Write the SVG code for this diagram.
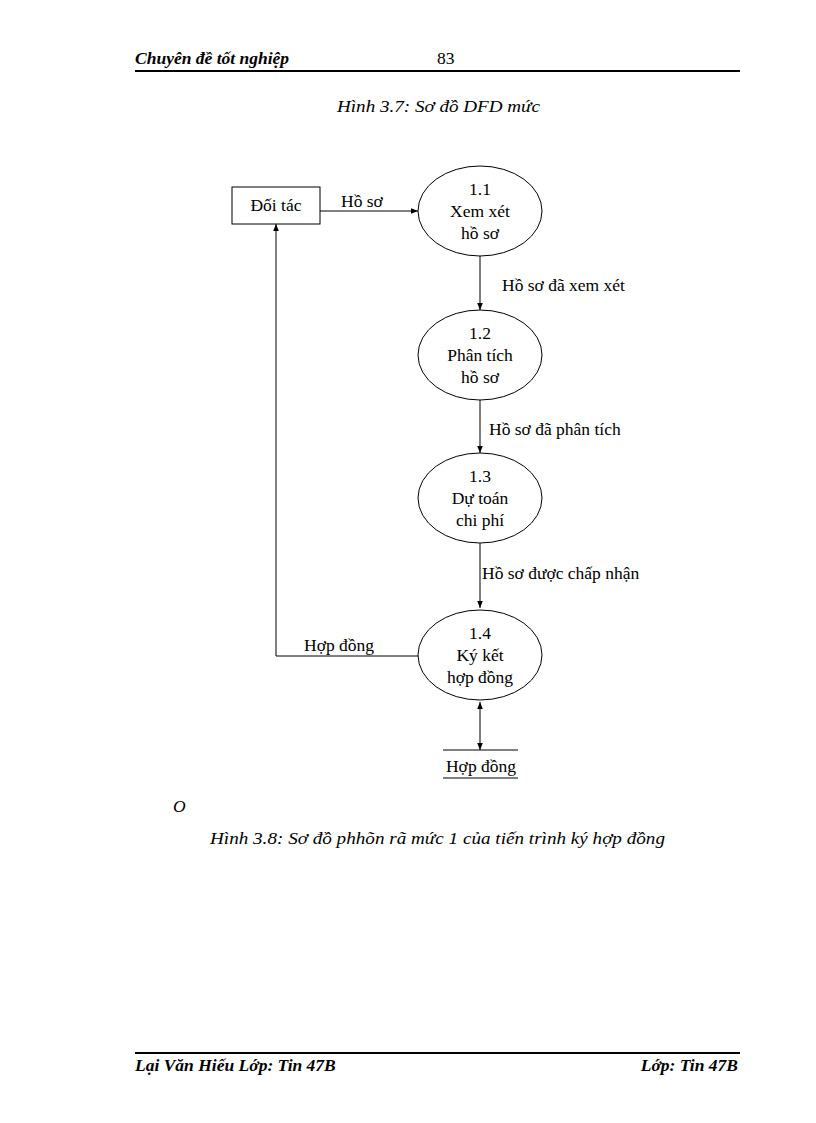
<svg xmlns="http://www.w3.org/2000/svg" width="816" height="1123" viewBox="0 0 816 1123">
<style>
text{font-family:"Liberation Serif",serif;font-size:17.5px;fill:#000}
.c{text-anchor:middle}
.i{font-style:italic}
.b{font-weight:bold;font-style:italic}
.s{fill:none;stroke:#000;stroke-width:1}
</style>
<defs><marker id="a" viewBox="0 0 10 10" refX="10" refY="5" markerWidth="7" markerHeight="7" orient="auto-start-reverse"><path d="M0,1 L10,5 L0,9z" fill="#000"/></marker></defs>
<rect width="816" height="1123" fill="#fff"/>
<text x="135" y="64" class="b">Chuyên đề tốt nghiệp</text>
<text x="437" y="64">83</text>
<line x1="135" y1="71" x2="740" y2="71" stroke="#000" stroke-width="2"/>
<text x="337" y="112" class="i" textLength="203" lengthAdjust="spacingAndGlyphs">Hình 3.7: Sơ đồ DFD mức</text>
<g id="doitac"><rect x="232" y="187" width="88" height="37" class="s"/><text x="276" y="211" class="c">Đối tác</text></g>
<g id="p11"><ellipse cx="480" cy="211" rx="62" ry="45" class="s"/><text x="480" y="195" class="c">1.1</text><text x="480" y="217" class="c">Xem xét</text><text x="480" y="239" class="c">hồ sơ</text></g>
<g id="p12"><ellipse cx="480" cy="355" rx="62" ry="45" class="s"/><text x="480" y="339" class="c">1.2</text><text x="480" y="361" class="c">Phân tích</text><text x="480" y="383" class="c">hồ sơ</text></g>
<g id="p13"><ellipse cx="480" cy="498" rx="62" ry="45" class="s"/><text x="480" y="482" class="c">1.3</text><text x="480" y="504" class="c">Dự toán</text><text x="480" y="526" class="c">chi phí</text></g>
<g id="p14"><ellipse cx="480" cy="655" rx="62" ry="45" class="s"/><text x="480" y="639" class="c">1.4</text><text x="480" y="661" class="c">Ký kết</text><text x="480" y="683" class="c">hợp đồng</text></g>
<g id="store"><line x1="443" y1="750" x2="518" y2="750" class="s"/><line x1="443" y1="778" x2="518" y2="778" class="s"/><text x="481" y="772" class="c">Hợp đồng</text></g>
<g id="connectors" class="s">
<line x1="320" y1="211" x2="418" y2="211" marker-end="url(#a)"/>
<line x1="480" y1="256" x2="480" y2="310" marker-end="url(#a)"/>
<line x1="480" y1="400" x2="480" y2="453" marker-end="url(#a)"/>
<line x1="480" y1="543" x2="480" y2="608" marker-end="url(#a)"/>
<polyline points="418,656 276,656 276,224" marker-end="url(#a)"/>
<line x1="480" y1="702" x2="480" y2="750" marker-start="url(#a)" marker-end="url(#a)"/>
</g>
<text x="341" y="207">Hồ sơ</text>
<text x="502" y="291">Hồ sơ đã xem xét</text>
<text x="489" y="435">Hồ sơ đã phân tích</text>
<text x="482" y="579">Hồ sơ được chấp nhận</text>
<text x="304" y="651">Hợp đồng</text>
<text x="173" y="812" class="i">O</text>
<text x="210" y="844" class="i" textLength="455" lengthAdjust="spacingAndGlyphs">Hình 3.8: Sơ đồ phhõn rã mức 1 của tiến trình ký hợp đồng</text>
<line x1="135" y1="1053" x2="740" y2="1053" stroke="#000" stroke-width="2"/>
<text x="135" y="1071" class="b">Lại Văn Hiếu Lớp: Tin 47B</text>
<text x="738" y="1071" class="b" text-anchor="end">Lớp: Tin 47B</text>
</svg>
